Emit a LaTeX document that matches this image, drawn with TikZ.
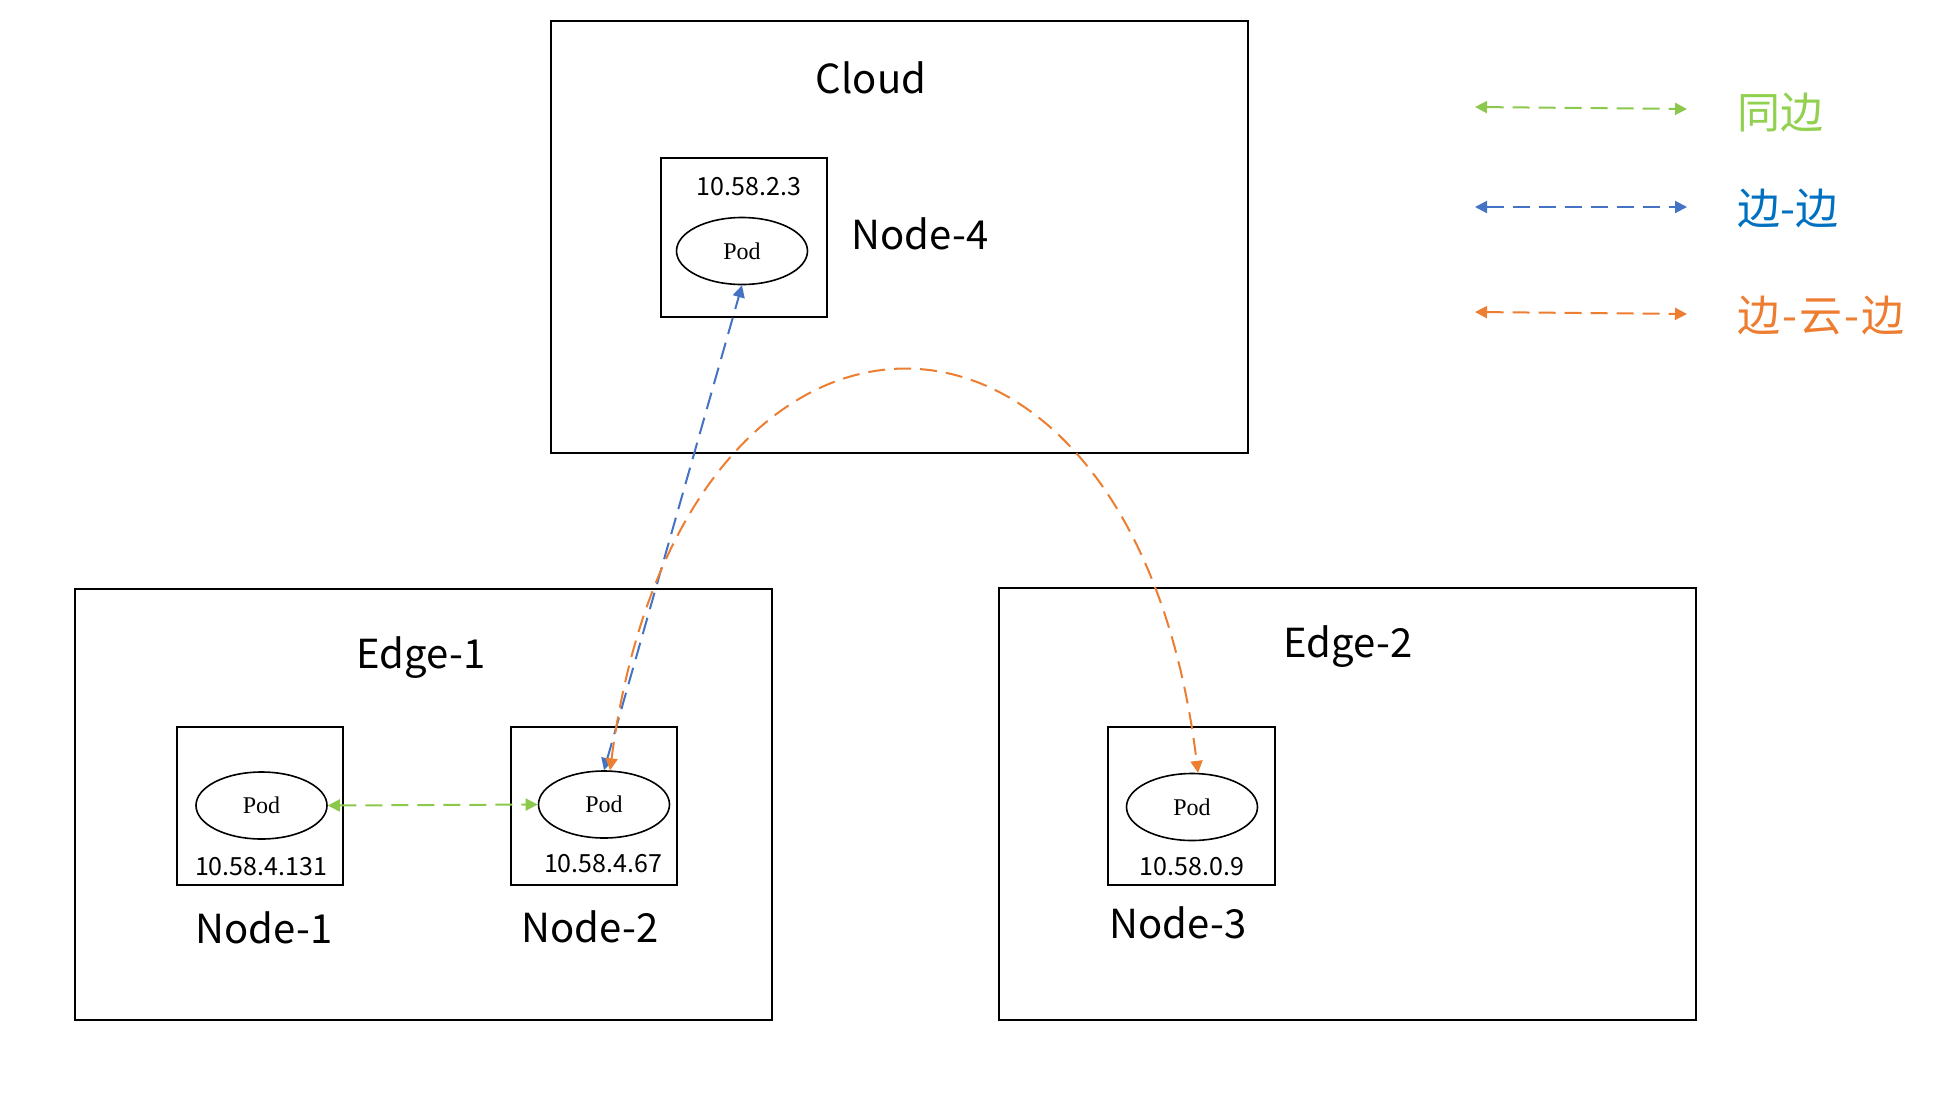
\documentclass[tikz,border=0pt]{standalone}
\usepackage{fontspec}
\newfontfamily\cjk{Noto Sans CJK SC}
\newfontfamily\podfont{Liberation Serif}
\usetikzlibrary{arrows.meta,shapes.geometric}
\definecolor{cgreen}{HTML}{8CC84B}
\definecolor{tgreen}{HTML}{92D050}
\definecolor{cblue}{HTML}{4472C4}
\definecolor{tblue}{HTML}{0070C0}
\definecolor{corange}{HTML}{ED7D31}
\tikzset{
  region/.style={draw=black,line width=2pt,rectangle,minimum width=697pt,minimum height=432pt,inner sep=0pt},
  nodebox/.style={draw=black,line width=2pt,rectangle,minimum width=166pt,minimum height=158pt,inner sep=0pt},
  pod/.style={draw=black,line width=1.6pt,ellipse,minimum width=131pt,minimum height=67pt,inner sep=0pt,font=\podfont\fontsize{24}{24}\selectfont},
  biglabel/.style={anchor=base,inner sep=0pt,font=\cjk\fontsize{40}{42}\selectfont},
  iplabel/.style={anchor=base,inner sep=0pt,font=\cjk\fontsize{25}{26}\selectfont},
  leglabel/.style={anchor=base west,inner sep=0pt,font=\cjk\fontsize{43}{44}\selectfont},
  link/.style={line width=2pt,dash pattern=on 17pt off 9pt,{Triangle[length=12pt,width=12pt]}-{Triangle[length=12pt,width=12pt]}},
}
\begin{document}
\begin{tikzpicture}[x=1pt,y=-1pt]
\useasboundingbox[fill=white] (0,0) rectangle (1944,1096);
% regions
\node[region] (cloud) at (899,237) {};
\node[region,minimum width=697pt,minimum height=431pt] (edge1) at (423.5,804.5) {};
\node[region] (edge2) at (1347.5,804) {};
% node boxes
\node[nodebox,minimum height=159pt] (n4box) at (744,237.5) {};
\node[nodebox] (n1box) at (260,806) {};
\node[nodebox] (n2box) at (594,806) {};
\node[nodebox,minimum width=167pt] (n3box) at (1191.5,806) {};
% pods
\node[pod] (n4pod) at (742,251) {Pod};
\node[pod] (n1pod) at (261.5,805.5) {Pod};
\node[pod] (n2pod) at (604,804.5) {Pod};
\node[pod] (n3pod) at (1192,807) {Pod};
% labels
\node[biglabel] (lcloud) at (871,93) {Cloud};
\node[biglabel] (ledge1) at (421,668) {Edge-1};
\node[biglabel] (ledge2) at (1348,657) {Edge-2};
\node[biglabel] (ln4) at (920,249) {Node-4};
\node[biglabel] (ln1) at (264,943) {Node-1};
\node[biglabel] (ln2) at (590,942) {Node-2};
\node[biglabel] (ln3) at (1178,938) {Node-3};
% ips
\node[iplabel] (ip4) at (749,195) {10.58.2.3};
\node[iplabel] (ip1) at (261,875) {10.58.4.131};
\node[iplabel] (ip2) at (603,872) {10.58.4.67};
\node[iplabel] (ip3) at (1192,875) {10.58.0.9};
% connectors
\draw[link,draw=cgreen] (n1pod.east) -- (n2pod.west);
\draw[link,draw=cblue] (n2pod.north) -- (n4pod.south);
\draw[link,draw=corange] (n2pod.80) .. controls (680,238) and (1133,238) .. (n3pod.80);
% legend
\coordinate (g1) at (1475,107); \coordinate (g2) at (1687,109);
\coordinate (b1) at (1475,207); \coordinate (b2) at (1687,207);
\coordinate (o1) at (1475,312); \coordinate (o2) at (1687,314);
\draw[link,draw=cgreen] (g1) -- (g2);
\draw[link,draw=cblue] (b1) -- (b2);
\draw[link,draw=corange] (o1) -- (o2);
\node[leglabel,text=tgreen] (lg) at (1737,128) {同边};
\node[leglabel,text=tblue] (lb) at (1737,224) {边-边};
\node[leglabel,text=corange] (lo) at (1737,331) {边\kern2pt-\kern2pt云\kern2pt-\kern2pt边};
\end{tikzpicture}
\end{document}
